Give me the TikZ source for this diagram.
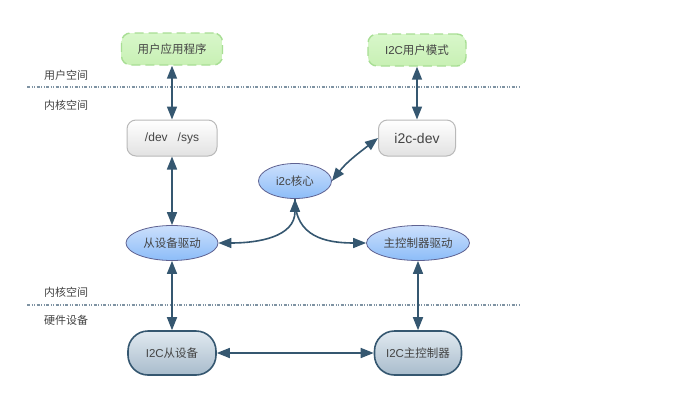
\documentclass[tikz,border=0pt]{standalone}
\usepackage{fontspec}
\setmainfont{Liberation Sans}
\newfontfamily\cjk{Noto Sans CJK SC}
\usetikzlibrary{arrows.meta,shapes.geometric}

\definecolor{arrowc}{HTML}{355770}
\definecolor{txt}{HTML}{444444}
\definecolor{layerline}{HTML}{7F93A3}

\tikzset{
  userbox/.style={draw={rgb,255:red,168;green,222;blue,148},
    dashed, dash pattern=on 9pt off 5pt, line width=1.4pt,
    rounded corners=9pt, top color={rgb,255:red,216;green,247;blue,202},
    bottom color={rgb,255:red,200;green,240;blue,180},
    inner sep=0pt, text=txt, font=\cjk\fontsize{11.5}{13}\selectfont},
  kernbox/.style={draw={rgb,255:red,185;green,185;blue,185}, line width=1pt,
    rounded corners=9pt, top color=white,
    bottom color={rgb,255:red,226;green,226;blue,226},
    inner sep=0pt, text=txt},
  drvell/.style={ellipse, draw={rgb,255:red,95;green,98;blue,145}, line width=0.8pt,
    top color={rgb,255:red,204;green,224;blue,252},
    bottom color={rgb,255:red,140;green,188;blue,248},
    inner sep=0pt, text=txt, font=\cjk\fontsize{11.5}{13}\selectfont},
  hwbox/.style={draw=arrowc, line width=1.6pt, rounded corners=20pt,
    top color={rgb,255:red,225;green,233;blue,240},
    bottom color={rgb,255:red,168;green,188;blue,204},
    inner sep=0pt, text=txt, font=\fontsize{11.5}{13}\selectfont},
  layer/.style={draw=layerline, line width=1.1pt,
    dash pattern=on 3pt off 1.5pt on 1pt off 1.5pt on 1pt off 1.5pt},
  layerlabel/.style={text=txt, font=\cjk\fontsize{11}{12}\selectfont, inner sep=0pt},
  link/.style={draw=arrowc, line width=1.6pt,
    {Triangle[width=10pt,length=13pt]}-{Triangle[width=10pt,length=13pt]}},
  linkone/.style={draw=arrowc, line width=1.6pt, -{Triangle[width=10pt,length=13pt]}}
}

\begin{document}
\begin{tikzpicture}[x=1pt,y=-1pt]
\useasboundingbox[fill=white] (0,0) rectangle (680,407);

% layer boundaries
\coordinate (l1a) at (27,87);
\coordinate (l1b) at (520,87);
\coordinate (l2a) at (27,305);
\coordinate (l2b) at (520,305);
\draw[layer] (l1a) -- (l1b);
\draw[layer] (l2a) -- (l2b);

\node[layerlabel] (lu)  at (66,75)  {用户空间};
\node[layerlabel] (lk1) at (66,105) {内核空间};
\node[layerlabel] (lk2) at (66,292) {内核空间};
\node[layerlabel] (lh)  at (66,320) {硬件设备};

% user space
\node[userbox, minimum width=101pt, minimum height=32pt] (app) at (172,49) {用户应用程序};
\node[userbox, minimum width=98pt, minimum height=32pt] (umode) at (417,50)
  {{\fontspec{Liberation Sans}I2C}用户模式};

% kernel space
\node[kernbox, minimum width=90pt, minimum height=36pt, font=\fontsize{12}{13}\selectfont] (devsys) at (172,138) {/dev\ \ \ /sys};
\node[kernbox, minimum width=77pt, minimum height=36pt, font=\fontsize{14}{15}\selectfont] (i2cdev) at (417,138) {i2c-dev};

\node[drvell, minimum width=73pt, minimum height=35pt] (core) at (295,181)
  {{\fontspec{Liberation Sans}i2c}核心};
\node[drvell, minimum width=92pt, minimum height=35pt] (sdrv) at (172,243) {从设备驱动};
\node[drvell, minimum width=103pt, minimum height=35pt] (mdrv) at (418,243) {主控制器驱动};

% hardware
\node[hwbox, minimum width=88pt, minimum height=44pt] (sdev) at (172,353)
  {I2C{\cjk 从设备}};
\node[hwbox, minimum width=87pt, minimum height=44pt] (mctl) at (418,353)
  {I2C{\cjk 主控制器}};

% connectors
\draw[link] (app.south) -- (devsys.north);
\draw[link] (umode.south -| i2cdev.north) -- (i2cdev.north);
\draw[link] (devsys.south) -- (sdrv.north);
\draw[link] (sdrv.south) -- (sdev.north);
\draw[link] (mdrv.south) -- (mdrv.south |- mctl.north);
\draw[link] (sdev.east) -- (mctl.west);
\draw[link] (core.east) to[out=52,in=218] (i2cdev.west);
\draw[link] (core.south) .. controls ++(0,38) and ++(40,0) .. (sdrv.east);
\draw[linkone] (core.south) .. controls ++(0,38) and ++(-40,0) .. (mdrv.west);
\end{tikzpicture}
\end{document}
